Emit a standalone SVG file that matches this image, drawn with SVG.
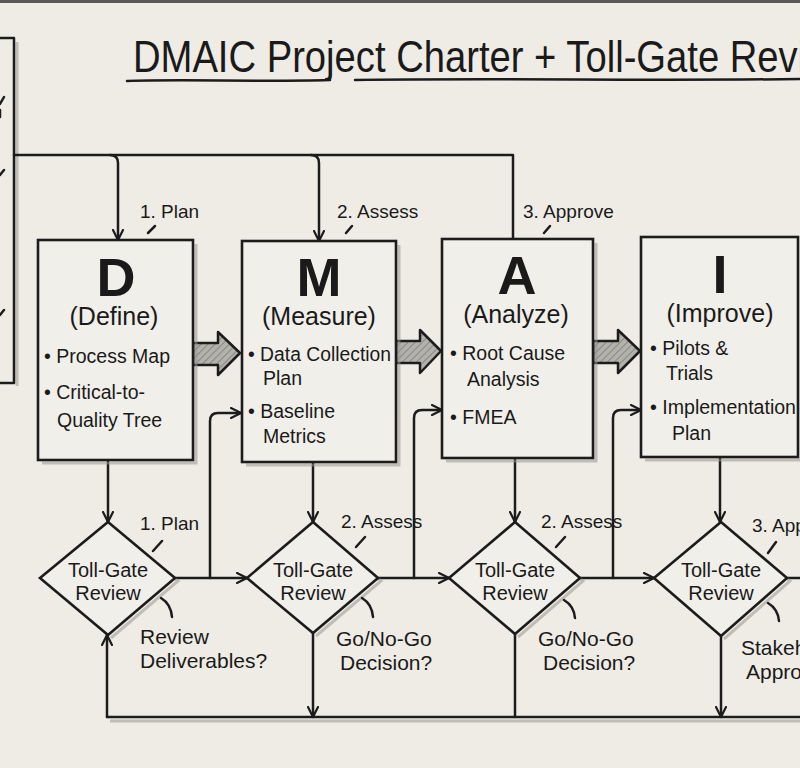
<svg xmlns="http://www.w3.org/2000/svg" width="800" height="768" viewBox="0 0 800 768">
<defs>
<style>
.ln{fill:none;stroke:#1c1c1c;stroke-width:2.5;stroke-linecap:round;stroke-linejoin:round}
.sh{fill:none;stroke:#9a9890;stroke-width:3;opacity:0.55}
.box{fill:#f1efe9;stroke:#1c1c1c;stroke-width:2.6}
.t{font-family:"Liberation Sans",Arial,sans-serif;fill:#1a1a1a}
.big{font-size:54px;font-weight:bold;text-anchor:middle}
.sub{font-size:25px;text-anchor:middle}
.bul{font-size:19.5px}
.lab{font-size:19px}
.dt{font-size:20px;text-anchor:middle}
.q{font-size:21px}
.blk{fill:url(#hatch);stroke:#1c1c1c;stroke-width:2.5;stroke-linejoin:round}
</style>
<pattern id="hatch" width="5" height="5" patternUnits="userSpaceOnUse" patternTransform="rotate(45)">
<rect width="5" height="5" fill="#b3b1ab"/>
<line x1="0" y1="0" x2="0" y2="5" stroke="#7d7b76" stroke-width="1.6"/>
</pattern>
<marker id="ah" viewBox="0 0 12 12" refX="11" refY="6" markerWidth="12" markerHeight="12" markerUnits="userSpaceOnUse" orient="auto">
<path d="M1,1 L11,6 L1,11" fill="none" stroke="#1c1c1c" stroke-width="2.2" stroke-linecap="round" stroke-linejoin="round"/>
</marker>
</defs>
<rect width="800" height="768" fill="#eeece5"/>
<rect width="800" height="3" fill="#5a5955"/>

<g id="title">
<text class="t" x="133" y="72" font-size="44" textLength="722" lengthAdjust="spacingAndGlyphs">DMAIC Project Charter + Toll-Gate Review</text>
<path class="ln" d="M127,81 C180,79 260,82 330,80 M355,80 C500,78 650,81 800,79"/>
</g>

<g id="left-frame">
<path class="sh" d="M17,42 V386"/>
<path class="ln" d="M0,38 H14 V383 H0"/>
<path class="ln" d="M0,104 L4,97 M0,110 V117 M0,175 L4,170 M0,315 L4,310"/>
</g>

<g id="connectors">
<path class="ln" d="M14,155 H513 V239"/>
<path class="ln" d="M110,155 Q118,155 118,163 V240" marker-end="url(#ah)"/>
<path class="ln" d="M311,155 Q319,155 319,163 V241" marker-end="url(#ah)"/>
<path class="ln" d="M108,460 V522" marker-end="url(#ah)"/>
<path class="ln" d="M313,462 V522" marker-end="url(#ah)"/>
<path class="ln" d="M515,458 V522" marker-end="url(#ah)"/>
<path class="ln" d="M720,457 V522" marker-end="url(#ah)"/>
<path class="ln" d="M175,578 H247" marker-end="url(#ah)"/>
<path class="ln" d="M210,578 V421 Q210,413 218,413 H241" marker-end="url(#ah)"/>
<path class="ln" d="M378,578 H449" marker-end="url(#ah)"/>
<path class="ln" d="M414,578 V418 Q414,410 422,410 H442" marker-end="url(#ah)"/>
<path class="ln" d="M580,578 H654" marker-end="url(#ah)"/>
<path class="ln" d="M613,578 V418 Q613,410 621,410 H641" marker-end="url(#ah)"/>
<path class="ln" d="M787,578 H800"/>
<path class="sh" d="M110,721 H800"/>
<path class="ln" d="M107,717 H800"/>
<path class="ln" d="M107,717 V635" marker-end="url(#ah)"/>
<path class="ln" d="M313,633 V717" marker-end="url(#ah)"/>
<path class="ln" d="M515,634 V717"/>
<path class="ln" d="M721,636 V717" marker-end="url(#ah)"/>
<path class="blk" d="M193,343 H218 V332 L240,353 L218,375 V365 H193 Z"/>
<path class="blk" d="M396,341 H420 V330 L441,351 L420,373 V363 H396 Z"/>
<path class="blk" d="M593,341 H618 V330 L640,351 L618,373 V363 H593 Z"/>
</g>

<g id="node-D">
<path class="sh" d="M196,244 V463 H42"/>
<rect class="box" x="38" y="240" width="155" height="220"/>
<text class="t big" x="116" y="296">D</text>
<text class="t sub" x="114" y="325">(Define)</text>
<text class="t bul" x="44" y="363">• Process Map</text>
<text class="t bul" x="44" y="399">• Critical-to-</text>
<text class="t bul" x="57" y="427">Quality Tree</text>
<text class="t lab" x="140" y="218">1. Plan</text>
<path class="ln" d="M148,233 L155,226" stroke-width="1.8"/>
</g>

<g id="node-M">
<path class="sh" d="M399,245 V465 H246"/>
<rect class="box" x="242" y="241" width="154" height="221"/>
<text class="t big" x="319" y="296">M</text>
<text class="t sub" x="319" y="325">(Measure)</text>
<text class="t bul" x="248" y="361" textLength="143" lengthAdjust="spacingAndGlyphs">• Data Collection</text>
<text class="t bul" x="263" y="385">Plan</text>
<text class="t bul" x="248" y="418">• Baseline</text>
<text class="t bul" x="263" y="443">Metrics</text>
<text class="t lab" x="337" y="218">2. Assess</text>
<path class="ln" d="M346,233 L352,226" stroke-width="1.8"/>
</g>

<g id="node-A">
<path class="sh" d="M596,243 V461 H446"/>
<rect class="box" x="442" y="239" width="151" height="219"/>
<text class="t big" x="517" y="294">A</text>
<text class="t sub" x="516" y="323">(Analyze)</text>
<text class="t bul" x="450" y="360">• Root Cause</text>
<text class="t bul" x="467" y="386">Analysis</text>
<text class="t bul" x="450" y="424">• FMEA</text>
<text class="t lab" x="523" y="218">3. Approve</text>
<path class="ln" d="M544,233 L550,226" stroke-width="1.8"/>
</g>

<g id="node-I">
<path class="sh" d="M645,460 H800"/>
<rect class="box" x="641" y="237" width="157" height="220"/>
<text class="t big" x="720" y="293">I</text>
<text class="t sub" x="720" y="322">(Improve)</text>
<text class="t bul" x="650" y="355">• Pilots &amp;</text>
<text class="t bul" x="666" y="380">Trials</text>
<text class="t bul" x="650" y="414" textLength="146" lengthAdjust="spacingAndGlyphs">• Implementation</text>
<text class="t bul" x="672" y="440">Plan</text>
</g>

<g id="gate-1">
<path class="sh" d="M111,526 L178,581 L111,638"/>
<path class="box" d="M108,522 L175,578 L108,635 L40,578 Z"/>
<text class="t dt" x="108" y="577">Toll-Gate</text>
<text class="t dt" x="108" y="600">Review</text>
<text class="t lab" x="140" y="530">1. Plan</text>
<path class="ln" d="M153,551 L162,541" stroke-width="1.8"/>
<path class="ln" d="M161,598 Q171,604 172,617" stroke-width="1.8"/>
<text class="t q" x="140" y="644">Review</text>
<text class="t q" x="140" y="668">Deliverables?</text>
</g>

<g id="gate-2">
<path class="sh" d="M316,526 L381,581 L316,636"/>
<path class="box" d="M313,522 L378,578 L313,633 L247,578 Z"/>
<text class="t dt" x="313" y="577">Toll-Gate</text>
<text class="t dt" x="313" y="600">Review</text>
<text class="t lab" x="341" y="528">2. Assess</text>
<path class="ln" d="M356,547 L365,537" stroke-width="1.8"/>
<path class="ln" d="M362,598 Q372,604 373,617" stroke-width="1.8"/>
<text class="t q" x="336" y="646">Go/No-Go</text>
<text class="t q" x="340" y="670">Decision?</text>
</g>

<g id="gate-3">
<path class="sh" d="M518,526 L583,581 L518,637"/>
<path class="box" d="M515,522 L580,578 L515,634 L449,578 Z"/>
<text class="t dt" x="515" y="577">Toll-Gate</text>
<text class="t dt" x="515" y="600">Review</text>
<text class="t lab" x="541" y="528">2. Assess</text>
<path class="ln" d="M556,547 L565,537" stroke-width="1.8"/>
<path class="ln" d="M564,600 Q574,606 575,618" stroke-width="1.8"/>
<text class="t q" x="538" y="646">Go/No-Go</text>
<text class="t q" x="543" y="670">Decision?</text>
</g>

<g id="gate-4">
<path class="sh" d="M724,526 L790,581 L724,639"/>
<path class="box" d="M721,522 L787,578 L721,636 L654,578 Z"/>
<text class="t dt" x="721" y="577">Toll-Gate</text>
<text class="t dt" x="721" y="600">Review</text>
<text class="t lab" x="752" y="532">3. Approve</text>
<path class="ln" d="M768,553 L776,542" stroke-width="1.8"/>
<path class="ln" d="M768,603 Q778,609 779,621" stroke-width="1.8"/>
<text class="t q" x="741" y="655">Stakeholder</text>
<text class="t q" x="746" y="679">Approval?</text>
</g>
</svg>
